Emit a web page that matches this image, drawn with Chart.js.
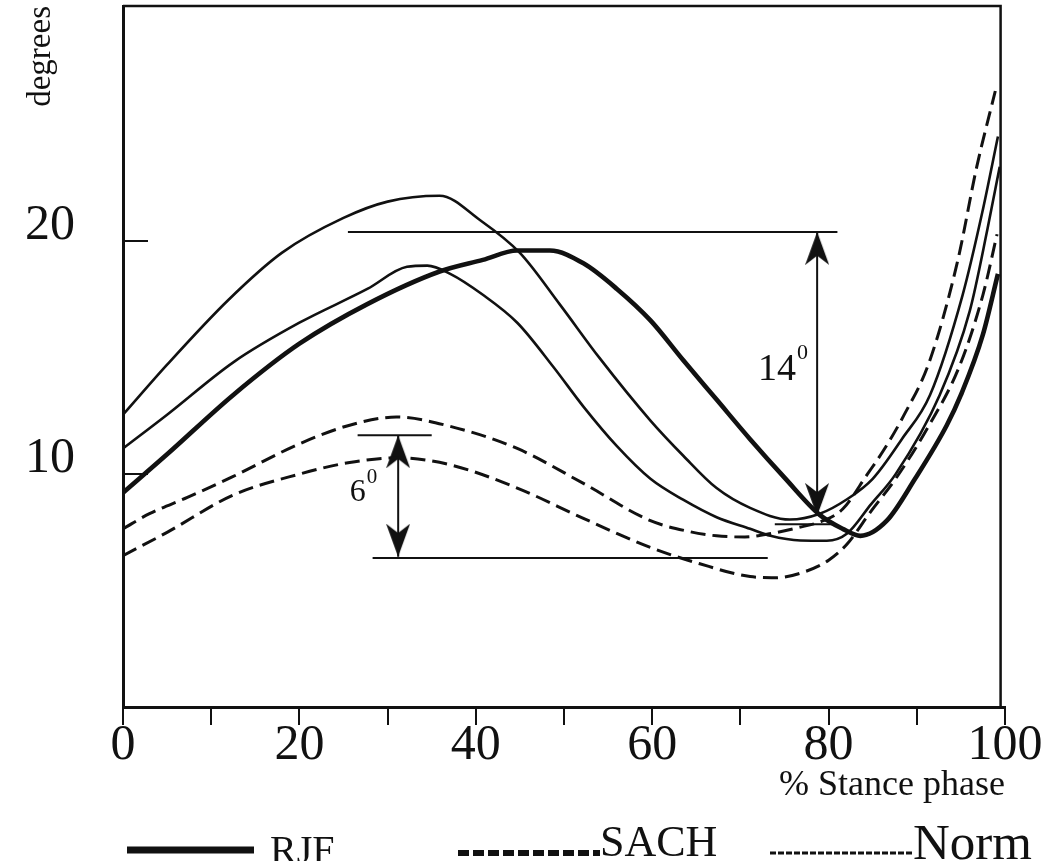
<!DOCTYPE html>
<html>
<head>
<meta charset="utf-8">
<script src="https://cdn.jsdelivr.net/npm/chart.js@4/dist/chart.umd.min.js"></script>
<style>
  html, body { margin: 0; padding: 0; background: #fff; overflow: hidden; }
  #wrap { width: 1050px; height: 861px; position: relative; }
  canvas { display: block; }
</style>
</head>
<body>
<div id="wrap"><canvas id="c" width="1050" height="861"></canvas></div>
<script>
// ---------------- DATA ----------------
const seriesNames = ['RJF', 'SACH', 'Norm'];

const xTickValues = [0, 10, 20, 30, 40, 50, 60, 70, 80, 90, 100];
const xTickLabels = ['0', '', '20', '', '40', '', '60', '', '80', '', '100'];
const yTickValues = [10, 20];
const yTickLabels = ['10', '20'];

// RJF (thick solid)
const rjfX = [0, 5, 12.5, 20, 27.7, 35.9, 40.8, 44.7, 48.4, 52.2, 56, 59.8, 63.5, 67.3, 71.1, 75, 79, 81.6, 83.6, 86.6, 89.8, 93.4, 95, 97.5, 99.2];
const rjfY = [9.2, 10.85, 13.4, 15.6, 17.3, 18.7, 19.2, 19.6, 19.6, 19.05, 17.95, 16.6, 14.9, 13.2, 11.5, 9.85, 8.25, 7.65, 7.35, 8.0, 9.8, 12.1, 13.4, 16.0, 18.6];

// Norm (thin solid, upper and lower)
const normUpperX = [0, 5, 12, 18, 25, 30, 35.9, 40.5, 45, 49.5, 54, 59.8, 63.5, 67.3, 71.1, 75.6, 79, 82, 85, 88.3, 91.5, 95.2, 97.4, 99.2];
const normUpperY = [12.55, 14.7, 17.5, 19.5, 21.0, 21.7, 21.95, 20.9, 19.5, 17.3, 15.0, 12.3, 10.8, 9.4, 8.55, 8.05, 8.3, 8.9, 9.8, 11.5, 13.4, 17.7, 21.2, 24.5];
const normLowerX = [0, 5, 12.5, 20, 27.7, 32.2, 34.5, 37.1, 40.8, 44.7, 48.8, 52.2, 56, 59.8, 63.5, 67.3, 71.1, 73.4, 76.8, 79.8, 82.1, 84.8, 87.6, 92.6, 96, 98, 99.4];
const normLowerY = [11.1, 12.55, 14.8, 16.5, 17.95, 18.9, 18.95, 18.6, 17.7, 16.5, 14.6, 12.9, 11.2, 9.8, 8.9, 8.15, 7.65, 7.35, 7.15, 7.14, 7.45, 8.7, 10.0, 13.4, 17.0, 20.5, 23.2];

// SACH (dashed, upper and lower)
const sachUpperX = [0, 3, 7.3, 12.5, 20, 25.7, 31, 37.1, 44.7, 52.2, 59.8, 64, 67.3, 70.5, 73.5, 76.5, 79.4, 81.6, 84.4, 86.2, 88.5, 91.4, 94.6, 96.8, 98.9];
const sachUpperY = [7.65, 8.3, 9.0, 9.9, 11.3, 12.1, 12.45, 12.05, 11.1, 9.6, 8.0, 7.55, 7.35, 7.3, 7.45, 7.7, 8.0, 8.5, 10.0, 11.0, 12.5, 14.8, 19.1, 23.2, 26.45];
const sachLowerX = [0, 5, 12.5, 20, 25.7, 31, 37.1, 44.7, 52.2, 59.8, 65.4, 71.1, 74, 77.6, 80, 82.1, 84.8, 87.6, 91.2, 94.8, 97.5, 99.1];
const sachLowerY = [6.5, 7.5, 9.1, 10.0, 10.5, 10.7, 10.4, 9.4, 8.1, 6.85, 6.15, 5.6, 5.55, 5.85, 6.3, 7.0, 8.4, 9.8, 11.97, 14.6, 17.7, 20.3];

// Annotation values (degrees / % stance)
const refLineY  = [20.4, 7.85, 11.67, 6.4];
const refLineX1 = [25.5, 73.9, 26.6, 28.3];
const refLineX2 = [81.0, 80.5, 35.0, 73.1];
const arrowX      = [78.7, 31.2];
const arrowTop    = [20.4, 11.67];
const arrowBottom = [8.2, 6.45];
const angleText = ['14', '6'];
const angleSup  = ['0', '0'];
const angleX = [72.0, 25.7];
const angleY = [14.06, 8.85];

// ---------------- helpers ----------------
const INK = '#111';
const SERIF = '"Liberation Serif", "Times New Roman", Times, serif';
const pts = (xs, ys) => xs.map((x, i) => ({ x: x, y: ys[i] }));

function makeArrowHead(w, h) {
  const c = document.createElement('canvas');
  c.width = w; c.height = 2 * h;
  const g = c.getContext('2d');
  g.fillStyle = INK;
  g.beginPath();
  g.moveTo(w / 2, h);            // tip at the image centre
  g.lineTo(w, 2 * h);
  g.lineTo(w / 2, 2 * h - h * 0.28);
  g.lineTo(0, 2 * h);
  g.closePath();
  g.fill();
  return c;
}
const arrowHead = makeArrowHead(24, 33);

const curveStyle = {
  RJF:  { borderColor: INK, borderWidth: 4.6, borderDash: [] },
  SACH: { borderColor: INK, borderWidth: 3, borderDash: [15, 7] },
  Norm: { borderColor: INK, borderWidth: 2.6, borderDash: [] }
};

function curve(label, group, xs, ys) {
  const s = curveStyle[group];
  return {
    label: label, group: group, data: pts(xs, ys),
    borderColor: s.borderColor, borderWidth: s.borderWidth, borderDash: s.borderDash,
    pointRadius: 0, fill: false, cubicInterpolationMode: 'monotone', borderCapStyle: 'butt'
  };
}

const datasets = [
  curve('Norm upper', 'Norm', normUpperX, normUpperY),
  curve('Norm lower', 'Norm', normLowerX, normLowerY),
  curve('SACH upper', 'SACH', sachUpperX, sachUpperY),
  curve('SACH lower', 'SACH', sachLowerX, sachLowerY),
  curve('RJF', 'RJF', rjfX, rjfY)
];

refLineY.forEach((y, i) => {
  datasets.push({
    label: 'ref' + i, data: [{ x: refLineX1[i], y: y }, { x: refLineX2[i], y: y }],
    borderColor: INK, borderWidth: 2, pointRadius: 0, tension: 0, fill: false
  });
});
arrowX.forEach((x, i) => {
  datasets.push({
    label: 'arrow' + i, data: [{ x: x, y: arrowTop[i] }, { x: x, y: arrowBottom[i] }],
    borderColor: INK, borderWidth: 2, tension: 0, fill: false,
    pointRadius: 3, pointStyle: arrowHead,
    pointRotation: (ctx) => (ctx.dataIndex === 0 ? 0 : 180)
  });
});

// ---------------- plugins ----------------
const framePlugin = {
  id: 'frame',
  afterDatasetsDraw(chart) {
    const { ctx, chartArea, scales } = chart;
    const xr = scales.x.getPixelForValue(99.5);
    const yt = chartArea.top;
    ctx.save();
    ctx.strokeStyle = INK;
    ctx.lineWidth = 2.5;
    ctx.beginPath();
    ctx.moveTo(chartArea.left, yt);
    ctx.lineTo(xr, yt);
    ctx.lineTo(xr, chartArea.bottom);
    ctx.stroke();
    ctx.restore();
  }
};

const angleLabelPlugin = {
  id: 'angleLabels',
  afterDatasetsDraw(chart) {
    const { ctx, scales } = chart;
    const mainSize = [38, 32];
    const supSize = [22, 21];
    const supRise = [21, 18];
    ctx.save();
    ctx.fillStyle = INK;
    ctx.textBaseline = 'alphabetic';
    ctx.textAlign = 'left';
    angleText.forEach((t, i) => {
      const px = scales.x.getPixelForValue(angleX[i]);
      const py = scales.y.getPixelForValue(angleY[i]);
      ctx.font = mainSize[i] + 'px ' + SERIF;
      ctx.fillText(t, px, py);
      const w = ctx.measureText(t).width;
      ctx.font = supSize[i] + 'px ' + SERIF;
      ctx.fillText(angleSup[i], px + w + 1, py - supRise[i]);
    });
    ctx.restore();
  }
};

const legendPlugin = {
  id: 'bottomLegend',
  afterDraw(chart) {
    const { ctx } = chart;
    const layout = [
      { x1: 127, x2: 254, y: 850, tx: 270, ty: 863, size: 40, width: 7, dash: [] },
      { x1: 458, x2: 600, y: 853, tx: 600, ty: 856, size: 44, width: 6, dash: [11, 4] },
      { x1: 770, x2: 912, y: 853, tx: 913, ty: 859, size: 51, width: 3, dash: [6, 2] }
    ];
    ctx.save();
    seriesNames.forEach((name, i) => {
      const L = layout[i];
      ctx.strokeStyle = INK;
      ctx.lineWidth = L.width;
      ctx.setLineDash(L.dash);
      ctx.beginPath();
      ctx.moveTo(L.x1, L.y);
      ctx.lineTo(L.x2, L.y);
      ctx.stroke();
      ctx.setLineDash([]);
      ctx.fillStyle = INK;
      ctx.font = L.size + 'px ' + SERIF;
      ctx.textAlign = 'left';
      ctx.textBaseline = 'alphabetic';
      ctx.fillText(name, L.tx, L.ty);
    });
    ctx.restore();
  }
};

// ---------------- chart ----------------
new Chart(document.getElementById('c'), {
  type: 'line',
  data: { datasets: datasets },
  options: {
    responsive: false,
    animation: false,
    events: [],
    layout: { padding: { top: 3, right: 45, bottom: 54, left: 0 } },
    plugins: { legend: { display: false }, tooltip: { enabled: false } },
    scales: {
      x: {
        type: 'linear', min: 0, max: 100,
        afterBuildTicks: (s) => { s.ticks = xTickValues.map(v => ({ value: v })); },
        afterFit: (s) => { s.height = 100; s.paddingLeft = 0; s.paddingRight = 0; },
        ticks: {
          autoSkip: false, maxRotation: 0, minRotation: 0, padding: -9, color: INK,
          font: { family: SERIF, size: 50 },
          callback: (v, i) => xTickLabels[i]
        },
        grid: { drawOnChartArea: false, drawTicks: true, tickLength: 18, color: INK, lineWidth: 2 },
        border: { display: true, color: INK, width: 3 },
        title: {
          display: true, text: '% Stance phase', align: 'end', color: INK,
          font: { family: SERIF, size: 36 }, padding: { top: 0, bottom: 0 }
        }
      },
      y: {
        type: 'linear', min: 0, max: 30.1,
        afterBuildTicks: (s) => { s.ticks = yTickValues.map(v => ({ value: v })); },
        afterFit: (s) => { s.width = 123; s.paddingTop = 0; s.paddingBottom = 0; },
        ticks: {
          padding: 73, labelOffset: -15, color: INK,
          font: { family: SERIF, size: 50 },
          callback: (v, i) => yTickLabels[i]
        },
        grid: { drawOnChartArea: false, drawTicks: true, tickLength: -25, color: INK, lineWidth: 2 },
        border: { display: true, color: INK, width: 3 },
        title: {
          display: true, text: 'degrees', align: 'end', color: INK,
          font: { family: SERIF, size: 33 }, padding: { top: 22, bottom: 0 }
        }
      }
    }
  },
  plugins: [framePlugin, angleLabelPlugin, legendPlugin]
});
</script>
</body>
</html>
